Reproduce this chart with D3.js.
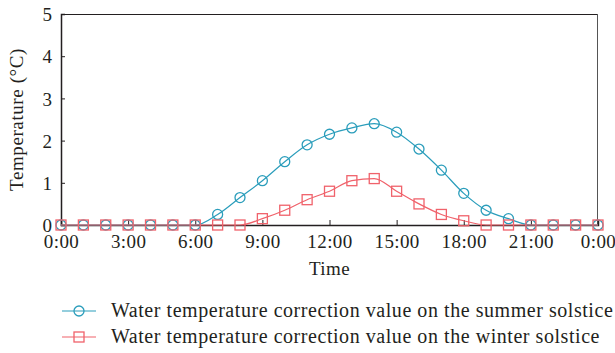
<!DOCTYPE html>
<meta charset="utf-8">
<title>water temperature correction</title>
<style>
  body { margin: 0; background: #fff; }
</style>
<body>
<div class="chart"></div>
</body>
<script src="https://d3js.org/d3.v7.min.js"></script>
<script>

// data, one value per hour, 0:00 to next 0:00

var hours = d3.range(0, 25);
var summer = [0, 0, 0, 0, 0, 0, 0, 0.25, 0.65, 1.05, 1.5, 1.9, 2.15, 2.3, 2.4,
              2.2, 1.8, 1.3, 0.75, 0.35, 0.15, 0, 0, 0, 0];
var winter = [0, 0, 0, 0, 0, 0, 0, 0, 0, 0.15, 0.35, 0.6, 0.8, 1.05, 1.1,
              0.8, 0.5, 0.25, 0.1, 0, 0, 0, 0, 0, 0];
var xTicks = [0, 3, 6, 9, 12, 15, 18, 21, 24];
var xTickLabels = ["0:00", "3:00", "6:00", "9:00", "12:00", "15:00", "18:00", "21:00", "0:00"];
var yTicks = [0, 1, 2, 3, 4, 5];
var seriesNames = ["Water temperature correction value on the summer solstice",
                   "Water temperature correction value on the winter solstice"];

var margin = {top: 14, right: 17, bottom: 128, left: 61};
var W = 615, H = 353,
  w = W - margin.left - margin.right,
  h = H - margin.top - margin.bottom;

var teal = "#2a9dbb", red = "#f0626b", ink = "#231f20";
var serif = "'Liberation Serif', 'Times New Roman', serif";

function font(sel, size, spacing) {
  sel.style("font-family", serif)
    .style("font-size", size + "px")
    .style("letter-spacing", spacing + "px")
    .attr("fill", ink);
}

var svg = d3.select(".chart").append("svg")
    .attr("width", W)
    .attr("height", H)
  .append("g")
    .attr("transform", "translate(" + margin.left + "," + margin.top + ")");

var x = d3.scaleLinear().domain([0, 24]).range([0, w]);
var y = d3.scaleLinear().domain([0, 5]).range([h, 0]);

// frame: top and right thin

svg.append("line")
  .attr("x1", 0).attr("x2", w).attr("y1", 0.5).attr("y2", 0.5)
  .attr("stroke", ink).attr("stroke-width", 1);
svg.append("line")
  .attr("x1", w - 0.5).attr("x2", w - 0.5).attr("y1", 0).attr("y2", h)
  .attr("stroke", "#555").attr("stroke-width", 1);

// axes, ticks pointing inward

var xaxis = d3.axisBottom(x)
  .tickValues(xTicks)
  .tickSize(-5)
  .tickFormat(function(d, i) { return xTickLabels[i]; });

var yaxis = d3.axisLeft(y)
  .tickValues(yTicks)
  .tickSize(-4)
  .tickFormat(d3.format("d"));

var gx = svg.append("g")
  .attr("transform", "translate(0," + h + ")")
  .call(xaxis);
gx.selectAll("text").attr("dy", 0).attr("y", 23).call(font, 19, 0.4);

var gy = svg.append("g").call(yaxis);
gy.selectAll("text").attr("x", -9).attr("dy", "0.35em").call(font, 19, 0);

svg.selectAll(".domain").attr("stroke", ink).attr("stroke-width", 1.5);
svg.selectAll(".tick line").attr("stroke", ink);

// axis titles

svg.append("text")
  .attr("x", w / 2)
  .attr("y", h + 50)
  .attr("text-anchor", "middle")
  .call(font, 19, 0.4)
  .text("Time");

svg.append("text")
  .attr("transform", "translate(" + (-38) + "," + (h / 2) + ") rotate(-90)")
  .attr("text-anchor", "middle")
  .call(font, 19, 0.6)
  .text("Temperature (°C)");

// lines and markers

var line = d3.line()
  .x(function(d, i) { return x(hours[i]); })
  .y(function(d) { return y(d); })
  .curve(d3.curveMonotoneX);

svg.append("path").datum(summer)
  .attr("d", line).attr("fill", "none").attr("stroke", teal).attr("stroke-width", 1.2);

svg.selectAll("circle.s").data(summer).enter()
  .append("circle")
  .attr("class", "s")
  .attr("cx", function(d, i) { return x(hours[i]); })
  .attr("cy", function(d) { return y(d); })
  .attr("r", 5)
  .attr("fill", "none")
  .attr("stroke", teal)
  .attr("stroke-width", 1.3);

svg.append("path").datum(winter)
  .attr("d", line).attr("fill", "none").attr("stroke", red).attr("stroke-width", 1.2);

svg.selectAll("rect.w").data(winter).enter()
  .append("rect")
  .attr("class", "w")
  .attr("x", function(d, i) { return x(hours[i]) - 5; })
  .attr("y", function(d) { return y(d) - 5; })
  .attr("width", 10)
  .attr("height", 10)
  .attr("fill", "none")
  .attr("stroke", red)
  .attr("stroke-width", 1.3);

// legend

var legend = svg.append("g")
  .attr("transform", "translate(" + (62 - margin.left) + "," + (311 - margin.top) + ")");

[0, 1].forEach(function(k) {
  var g = legend.append("g").attr("transform", "translate(0," + (k * 26) + ")");
  var c = k === 0 ? teal : red;
  g.append("line").attr("x1", 0).attr("x2", 34).attr("y1", 0).attr("y2", 0)
    .attr("stroke", c).attr("stroke-width", 1.2);
  if (k === 0) {
    g.append("circle").attr("cx", 17).attr("cy", 0).attr("r", 5)
      .attr("fill", "none").attr("stroke", c).attr("stroke-width", 1.3);
  } else {
    g.append("rect").attr("x", 12).attr("y", -5).attr("width", 10).attr("height", 10)
      .attr("fill", "none").attr("stroke", c).attr("stroke-width", 1.3);
  }
  g.append("text")
    .attr("x", 49)
    .attr("y", 6)
    .call(font, 20, 0.55)
    .text(seriesNames[k]);
});

</script>
